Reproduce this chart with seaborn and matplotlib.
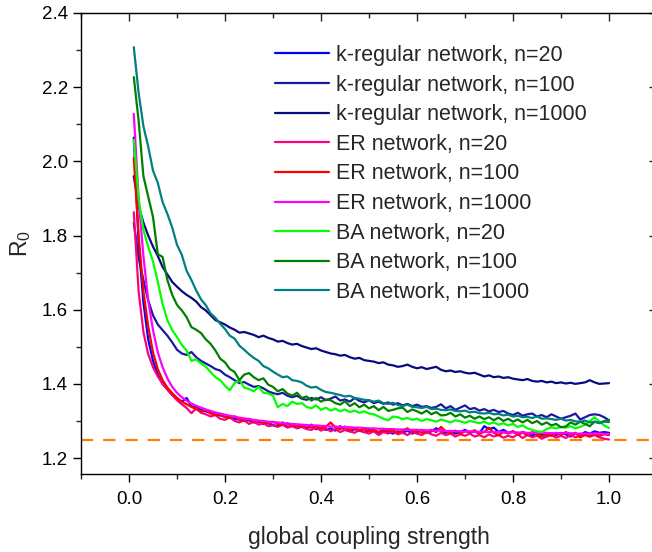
import numpy as np
import pandas as pd
import matplotlib
matplotlib.use("Agg")
import matplotlib.pyplot as plt
from matplotlib.ticker import MultipleLocator, FixedLocator
from matplotlib.lines import Line2D
import seaborn as sns

# ---------------- data ----------------
coupling = [round(i / 100, 2) for i in range(1, 101)]

labels = ["k-regular network, n=20", "k-regular network, n=100", "k-regular network, n=1000",
          "ER network, n=20", "ER network, n=100", "ER network, n=1000",
          "BA network, n=20", "BA network, n=100", "BA network, n=1000"]
colors = ["#0000FF", "#1A1AA0", "#0A0A80",
          "#FF0080", "#FF0000", "#FF00FF",
          "#00FF00", "#008000", "#008080"]

kreg_20 = [2.064, 1.780, 1.620, 1.520, 1.462, 1.425, 1.400, 1.385, 1.370, 1.360,
           1.352, 1.362, 1.340, 1.336, 1.330, 1.326, 1.322, 1.318, 1.315, 1.312,
           1.310, 1.306, 1.304, 1.300, 1.302, 1.296, 1.298, 1.292, 1.294, 1.289,
           1.286, 1.296, 1.284, 1.287, 1.282, 1.286, 1.280, 1.290, 1.278, 1.282,
           1.276, 1.280, 1.274, 1.286, 1.276, 1.272, 1.278, 1.274, 1.270, 1.276,
           1.272, 1.268, 1.274, 1.270, 1.266, 1.272, 1.268, 1.274, 1.266, 1.270,
           1.276, 1.268, 1.272, 1.280, 1.274, 1.268, 1.272, 1.266, 1.270, 1.276,
           1.268, 1.272, 1.266, 1.286, 1.278, 1.282, 1.270, 1.276, 1.268, 1.272,
           1.264, 1.270, 1.266, 1.260, 1.268, 1.264, 1.258, 1.266, 1.262, 1.268,
           1.264, 1.258, 1.266, 1.262, 1.270, 1.266, 1.272, 1.268, 1.270, 1.268]

kreg_100 = [1.834, 1.740, 1.680, 1.625, 1.585, 1.560, 1.545, 1.530, 1.512, 1.492,
            1.482, 1.478, 1.486, 1.472, 1.462, 1.455, 1.448, 1.440, 1.436, 1.425,
            1.418, 1.410, 1.402, 1.405, 1.398, 1.392, 1.394, 1.388, 1.380, 1.375,
            1.372, 1.376, 1.368, 1.364, 1.368, 1.360, 1.357, 1.362, 1.358, 1.364,
            1.356, 1.360, 1.366, 1.355, 1.358, 1.352, 1.362, 1.354, 1.350, 1.356,
            1.348, 1.352, 1.346, 1.350, 1.344, 1.348, 1.342, 1.346, 1.340, 1.344,
            1.338, 1.340, 1.335, 1.338, 1.345, 1.334, 1.340, 1.330, 1.336, 1.342,
            1.332, 1.335, 1.328, 1.332, 1.326, 1.330, 1.324, 1.327, 1.320, 1.316,
            1.322, 1.314, 1.318, 1.320, 1.312, 1.316, 1.310, 1.318, 1.312, 1.306,
            1.310, 1.314, 1.320, 1.304, 1.310, 1.316, 1.318, 1.316, 1.310, 1.302]

kreg_1000 = [1.960, 1.880, 1.835, 1.800, 1.770, 1.745, 1.715, 1.695, 1.675, 1.662,
             1.650, 1.640, 1.632, 1.622, 1.607, 1.598, 1.585, 1.572, 1.566, 1.560,
             1.552, 1.546, 1.538, 1.540, 1.536, 1.532, 1.526, 1.530, 1.524, 1.520,
             1.514, 1.516, 1.510, 1.506, 1.508, 1.502, 1.498, 1.494, 1.496, 1.490,
             1.486, 1.482, 1.480, 1.476, 1.478, 1.472, 1.468, 1.470, 1.464, 1.462,
             1.460, 1.456, 1.458, 1.452, 1.450, 1.446, 1.448, 1.452, 1.446, 1.442,
             1.445, 1.440, 1.443, 1.446, 1.438, 1.434, 1.436, 1.432, 1.434, 1.430,
             1.428, 1.430, 1.425, 1.420, 1.423, 1.418, 1.420, 1.416, 1.418, 1.414,
             1.412, 1.410, 1.413, 1.408, 1.406, 1.408, 1.404, 1.406, 1.402, 1.404,
             1.401, 1.403, 1.400, 1.402, 1.404, 1.410, 1.404, 1.400, 1.401, 1.402]

er_20 = [1.863, 1.650, 1.540, 1.480, 1.445, 1.420, 1.400, 1.385, 1.370, 1.356,
         1.345, 1.335, 1.321, 1.334, 1.322, 1.318, 1.312, 1.316, 1.306, 1.303,
         1.310, 1.300, 1.296, 1.302, 1.292, 1.298, 1.290, 1.294, 1.286, 1.288,
         1.284, 1.290, 1.282, 1.286, 1.280, 1.284, 1.278, 1.276, 1.282, 1.274,
         1.280, 1.272, 1.278, 1.270, 1.276, 1.272, 1.268, 1.276, 1.270, 1.266,
         1.272, 1.262, 1.270, 1.266, 1.272, 1.264, 1.268, 1.262, 1.270, 1.266,
         1.262, 1.270, 1.264, 1.260, 1.268, 1.262, 1.266, 1.258, 1.264, 1.260,
         1.266, 1.258, 1.262, 1.256, 1.264, 1.258, 1.262, 1.255, 1.260, 1.256,
         1.264, 1.254, 1.262, 1.256, 1.260, 1.252, 1.258, 1.262, 1.255, 1.260,
         1.254, 1.262, 1.256, 1.260, 1.264, 1.258, 1.262, 1.256, 1.252, 1.250]

er_100 = [2.009, 1.800, 1.650, 1.555, 1.485, 1.440, 1.410, 1.390, 1.375, 1.362,
          1.352, 1.345, 1.338, 1.332, 1.326, 1.330, 1.320, 1.316, 1.318, 1.310,
          1.308, 1.312, 1.304, 1.302, 1.306, 1.298, 1.300, 1.296, 1.294, 1.298,
          1.292, 1.289, 1.294, 1.286, 1.290, 1.285, 1.288, 1.282, 1.286, 1.280,
          1.284, 1.296, 1.282, 1.278, 1.285, 1.276, 1.280, 1.274, 1.278, 1.272,
          1.276, 1.270, 1.278, 1.272, 1.275, 1.268, 1.274, 1.280, 1.270, 1.275,
          1.268, 1.272, 1.276, 1.270, 1.284, 1.272, 1.268, 1.274, 1.266, 1.272,
          1.270, 1.275, 1.266, 1.270, 1.282, 1.268, 1.262, 1.270, 1.266, 1.272,
          1.264, 1.268, 1.262, 1.270, 1.264, 1.258, 1.266, 1.260, 1.268, 1.262,
          1.270, 1.264, 1.268, 1.256, 1.262, 1.258, 1.266, 1.260, 1.264, 1.262]

er_1000 = [2.128, 1.900, 1.745, 1.625, 1.545, 1.485, 1.445, 1.415, 1.392, 1.376,
           1.364, 1.355, 1.347, 1.341, 1.336, 1.331, 1.327, 1.323, 1.320, 1.317,
           1.314, 1.312, 1.309, 1.307, 1.305, 1.303, 1.301, 1.300, 1.298, 1.297,
           1.296, 1.294, 1.293, 1.292, 1.291, 1.290, 1.289, 1.288, 1.288, 1.287,
           1.286, 1.285, 1.285, 1.284, 1.283, 1.283, 1.282, 1.282, 1.281, 1.280,
           1.280, 1.279, 1.279, 1.278, 1.278, 1.277, 1.277, 1.276, 1.276, 1.276,
           1.275, 1.275, 1.274, 1.274, 1.274, 1.273, 1.273, 1.273, 1.272, 1.272,
           1.272, 1.271, 1.271, 1.271, 1.270, 1.270, 1.270, 1.270, 1.269, 1.269,
           1.269, 1.269, 1.268, 1.268, 1.268, 1.268, 1.268, 1.267, 1.267, 1.267,
           1.267, 1.267, 1.266, 1.266, 1.266, 1.266, 1.266, 1.266, 1.265, 1.265]

ba_20 = [2.058, 1.900, 1.815, 1.770, 1.730, 1.675, 1.615, 1.572, 1.545, 1.526,
         1.505, 1.490, 1.462, 1.466, 1.455, 1.446, 1.432, 1.418, 1.410, 1.395,
         1.383, 1.402, 1.410, 1.390, 1.386, 1.380, 1.392, 1.376, 1.374, 1.368,
         1.337, 1.346, 1.340, 1.352, 1.346, 1.348, 1.338, 1.334, 1.342, 1.330,
         1.336, 1.328, 1.333, 1.326, 1.331, 1.324, 1.328, 1.322, 1.326, 1.320,
         1.318, 1.312, 1.306, 1.302, 1.312, 1.310, 1.305, 1.308, 1.303, 1.306,
         1.300, 1.305, 1.302, 1.298, 1.304, 1.300, 1.296, 1.302, 1.299, 1.295,
         1.300, 1.297, 1.294, 1.298, 1.292, 1.296, 1.290, 1.294, 1.288, 1.292,
         1.284, 1.288, 1.280, 1.276, 1.272, 1.270, 1.278, 1.283, 1.280, 1.284,
         1.282, 1.286, 1.280, 1.284, 1.290, 1.300, 1.310, 1.298, 1.288, 1.281]

ba_100 = [2.227, 2.110, 1.960, 1.905, 1.850, 1.750, 1.742, 1.680, 1.640, 1.613,
          1.598, 1.580, 1.553, 1.546, 1.537, 1.520, 1.508, 1.490, 1.468, 1.458,
          1.440, 1.432, 1.410, 1.425, 1.429, 1.418, 1.410, 1.415, 1.398, 1.392,
          1.380, 1.386, 1.374, 1.368, 1.376, 1.362, 1.366, 1.355, 1.362, 1.352,
          1.358, 1.356, 1.348, 1.344, 1.353, 1.340, 1.348, 1.337, 1.344, 1.334,
          1.340, 1.329, 1.338, 1.327, 1.330, 1.334, 1.336, 1.324, 1.331, 1.326,
          1.320, 1.328, 1.318, 1.324, 1.315, 1.316, 1.322, 1.312, 1.318, 1.309,
          1.314, 1.306, 1.312, 1.305, 1.310, 1.302, 1.309, 1.300, 1.306, 1.298,
          1.304, 1.296, 1.303, 1.294, 1.300, 1.290, 1.296, 1.288, 1.292, 1.283,
          1.285, 1.296, 1.290, 1.298, 1.292, 1.286, 1.298, 1.294, 1.300, 1.302]

ba_1000 = [2.308, 2.185, 2.095, 2.040, 1.975, 1.942, 1.890, 1.858, 1.822, 1.775,
           1.748, 1.705, 1.680, 1.652, 1.628, 1.612, 1.590, 1.578, 1.562, 1.548,
           1.530, 1.522, 1.503, 1.492, 1.480, 1.470, 1.462, 1.448, 1.442, 1.433,
           1.425, 1.418, 1.420, 1.410, 1.408, 1.404, 1.395, 1.390, 1.392, 1.384,
           1.378, 1.376, 1.373, 1.370, 1.366, 1.368, 1.362, 1.360, 1.357, 1.356,
           1.352, 1.355, 1.348, 1.346, 1.349, 1.343, 1.340, 1.344, 1.338, 1.337,
           1.335, 1.338, 1.332, 1.333, 1.330, 1.329, 1.331, 1.327, 1.326, 1.328,
           1.323, 1.325, 1.321, 1.320, 1.322, 1.318, 1.319, 1.315, 1.317, 1.312,
           1.314, 1.310, 1.311, 1.308, 1.312, 1.306, 1.307, 1.305, 1.303, 1.306,
           1.301, 1.303, 1.299, 1.298, 1.301, 1.296, 1.298, 1.295, 1.298, 1.297]

threshold = 1.25

series = [kreg_20, kreg_100, kreg_1000, er_20, er_100, er_1000, ba_20, ba_100, ba_1000]

frames = [pd.DataFrame({"x": coupling, "R0": vals, "series": lab})
          for lab, vals in zip(labels, series)]
df = pd.concat(frames, ignore_index=True)

# ---------------- style ----------------
sns.set_style("ticks")
plt.rcParams["font.family"] = ["Liberation Sans", "DejaVu Sans"]
plt.rcParams["mathtext.fontset"] = "custom"
plt.rcParams["mathtext.rm"] = "Liberation Sans"
plt.rcParams["mathtext.it"] = "Liberation Sans:italic"

fig = plt.figure(figsize=(6.52, 5.52), dpi=100)
W, H = 652, 552
left, right, top, bottom = 81, 657, 13, 474
ax = fig.add_axes([left / W, (H - bottom) / H, (right - left) / W, (bottom - top) / H])

palette = dict(zip(labels, colors))
sns.lineplot(data=df, x="x", y="R0", hue="series", hue_order=labels, palette=palette,
             estimator=None, sort=False, linewidth=1.6, ax=ax, legend=False)

ax.axhline(threshold, color="#FF8000", linewidth=1.6, dashes=(5.5, 4.5), zorder=1)

ax.set_xlim(-0.1, 1.1)
ax.set_ylim(1.157, 2.4)

ax.xaxis.set_major_locator(FixedLocator([0.0, 0.2, 0.4, 0.6, 0.8, 1.0]))
ax.xaxis.set_minor_locator(MultipleLocator(0.1))
ax.yaxis.set_major_locator(MultipleLocator(0.2))
ax.yaxis.set_minor_locator(MultipleLocator(0.1))
ax.xaxis.set_major_formatter(matplotlib.ticker.FormatStrFormatter("%.1f"))
ax.yaxis.set_major_formatter(matplotlib.ticker.FormatStrFormatter("%.1f"))

ax.tick_params(axis="both", which="major", direction="out", length=6, width=1.0,
               labelsize=13.5, colors="black")
ax.tick_params(axis="both", which="minor", direction="out", length=3.5, width=1.0)
ax.tick_params(axis="x", pad=6)

for s in ax.spines.values():
    s.set_linewidth(1.0)
    s.set_color("black")
    s.set_visible(True)

# top / right inward ticks
secx = ax.secondary_xaxis("top")
secx.xaxis.set_major_locator(FixedLocator([0.0, 0.2, 0.4, 0.6, 0.8, 1.0]))
secx.xaxis.set_minor_locator(MultipleLocator(0.1))
secx.tick_params(which="major", direction="in", length=6, width=1.0, labeltop=False)
secx.tick_params(which="minor", direction="in", length=3.5, width=1.0)
secy = ax.secondary_yaxis("right")
secy.yaxis.set_major_locator(MultipleLocator(0.2))
secy.yaxis.set_minor_locator(MultipleLocator(0.1))
secy.tick_params(which="major", direction="in", length=6, width=1.0, labelright=False)
secy.tick_params(which="minor", direction="in", length=3.5, width=1.0)

ax.set_xlabel("global coupling strength", fontsize=16.5, labelpad=13)
ax.set_ylabel(r"$\mathrm{R}_0$", fontsize=16.5, labelpad=6)

handles = [Line2D([0], [0], color=c, linewidth=1.6) for c in colors]
ax.legend(handles, labels, loc="upper left",
          bbox_to_anchor=((275 - left) / (right - left), (bottom - 45) / (bottom - top)),
          frameon=False, fontsize=15.5, handlelength=2.5, handletextpad=0.33,
          labelspacing=0.4, borderpad=0, borderaxespad=0)

fig.savefig("out.png", dpi=100)
